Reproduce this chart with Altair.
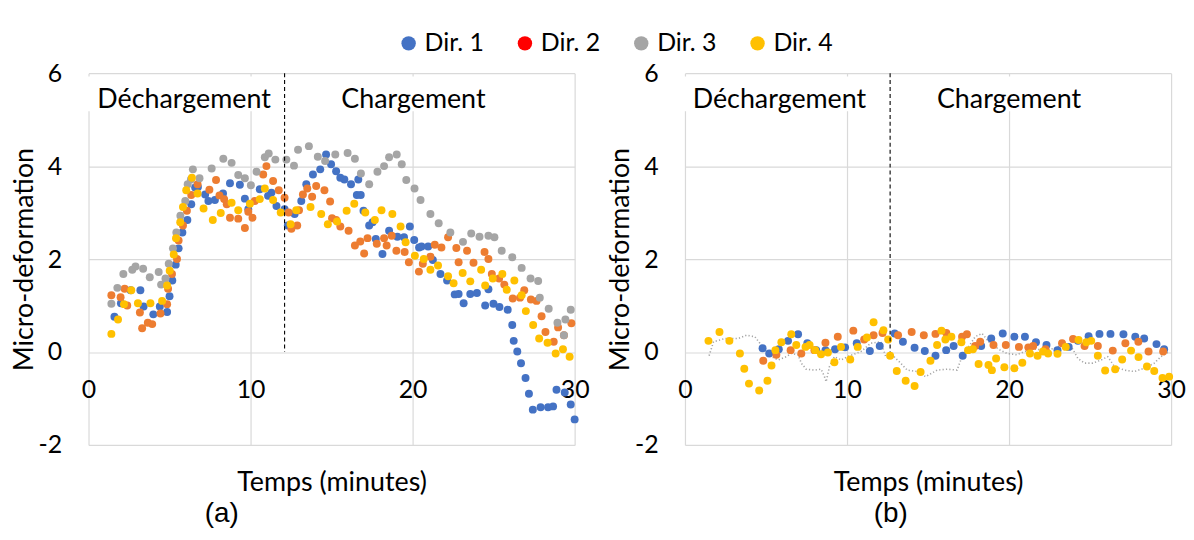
import altair as alt
import pandas as pd

series = ["Dir. 1", "Dir. 2", "Dir. 3", "Dir. 4"]
point_colors = ["#4472C4", "#ED7D31", "#A5A5A5", "#FFC000"]
legend_colors = ["#4472C4", "#FF0000", "#A5A5A5", "#FFC000"]

# ---------------- Panel (a) ----------------
a1_t = [1.6, 2.0, 2.6, 3.2, 3.4, 4.0, 4.4, 4.85, 5.0, 5.17, 5.38, 5.56, 5.79, 6.1, 6.34, 6.58, 6.75, 7.2, 7.4, 7.8,
        8.3, 8.73, 9.34, 9.65, 9.86, 10.57, 11.08, 11.29, 11.6, 12.1, 12.3, 12.72, 13.13, 13.44, 13.85, 14.3, 14.66,
        14.97, 15.28, 15.54, 15.79, 16.2, 16.56, 16.65, 16.8, 16.97, 17.32, 17.53, 17.73, 18.14, 18.55, 19.06, 19.47,
        19.83, 20.1, 20.4, 20.55, 20.96, 21.25, 21.72, 22.13, 22.6, 22.84, 23.15, 23.56, 23.97, 24.48, 24.68, 24.99,
        25.36, 25.87, 26.15, 26.24, 26.46, 26.69, 26.97, 27.18, 27.42, 27.9, 28.36, 28.67, 28.88, 29.39, 29.76, 30.0]
a1_v = [0.76, 1.05, 1.33, 1.33, 0.98, 0.81, 0.98, 0.86, 1.2, 1.54, 1.88, 2.23, 2.57, 2.84, 3.18, 3.54, 3.55, 3.39, 3.25,
        3.27, 3.41, 3.63, 3.6, 3.3, 3.07, 3.5, 3.36, 3.43, 3.14, 3.07, 2.72, 2.97, 3.25, 3.61, 3.82, 3.93, 4.25, 4.04,
        3.89, 3.75, 3.71, 3.61, 3.38, 3.71, 3.38, 3.04, 2.72, 2.79, 2.43, 2.11, 2.61, 2.48, 2.47, 2.7, 2.41, 2.25, 2.27,
        2.27, 1.98, 1.68, 1.54, 1.24, 1.25, 1.05, 1.25, 1.27, 1.0, 1.35, 1.04, 0.97, 0.91, 0.58, 0.24, 0.01, -0.24,
        -0.56, -0.9, -1.24, -1.19, -1.19, -1.17, -0.81, -0.87, -1.13, -1.45]

a2_t = [1.41, 1.98, 2.23, 2.39, 3.17, 3.31, 3.66, 3.93, 4.44, 4.85, 4.91, 5.15, 5.46, 5.56, 5.83, 6.07, 6.34, 6.73, 7.46,
        7.87, 8.08, 8.37, 8.53, 8.73, 9.24, 9.65, 9.86, 10.12, 10.26, 10.78, 10.98, 11.39, 11.74, 12.1, 12.35, 12.52,
        12.88, 12.99, 13.23, 13.5, 13.8, 14.05, 14.56, 14.91, 15.03, 15.28, 15.54, 16.05, 16.44, 16.77, 17.01, 17.22,
        17.79, 18.24, 18.4, 18.71, 19.0, 19.51, 19.77, 20.39, 20.63, 21.1, 21.37, 21.78, 22.19, 22.7, 22.84, 23.36,
        23.76, 24.44, 24.68, 24.89, 25.34, 25.66, 26.18, 26.63, 26.89, 27.3, 27.65, 27.96, 28.2, 28.71, 28.98, 29.34, 29.8]
a2_v = [1.22, 1.18, 1.36, 1.0, 0.85, 0.51, 0.63, 0.6, 0.83, 1.03, 1.36, 1.68, 2.0, 2.4, 2.72, 3.04, 3.38, 3.61, 3.49,
        3.7, 3.37, 3.29, 3.18, 2.89, 2.87, 2.67, 3.02, 2.89, 3.25, 3.82, 4.0, 3.68, 3.48, 3.32, 3.0, 2.65, 2.72, 3.05,
        3.39, 3.52, 3.34, 3.57, 3.48, 3.24, 2.88, 2.84, 2.7, 2.61, 2.29, 2.38, 2.12, 2.45, 2.33, 2.45, 2.29, 2.5, 2.18,
        2.15, 1.93, 1.73, 1.9, 2.05, 2.31, 2.25, 2.47, 2.24, 1.93, 2.18, 1.92, 2.15, 2.0, 1.68, 1.58, 1.45, 1.15, 1.17,
        1.33, 1.13, 1.1, 0.77, 0.43, 0.22, 0.53, 0.36, 0.62]

a3_t = [1.41, 1.78, 2.15, 2.7, 2.9, 3.37, 3.78, 4.33, 4.48, 4.75, 4.95, 5.21, 5.42, 5.67, 5.97, 6.12, 6.32, 6.44, 6.85,
        7.6, 8.32, 8.83, 9.24, 9.65, 10.02, 10.37, 10.88, 11.12, 11.53, 12.21, 12.68, 12.93, 13.6, 14.15, 14.6, 15.23,
        15.99, 16.44, 16.81, 17.32, 17.83, 18.24, 18.55, 19.02, 19.33, 19.61, 20.12, 20.49, 21.1, 21.61, 22.33, 23.11,
        23.62, 24.13, 24.68, 25.05, 25.5, 26.15, 26.73, 27.28, 27.75, 27.85, 28.4, 28.94, 29.34, 29.43, 29.76]
a3_v = [1.04, 1.38, 1.68, 1.77, 1.84, 1.79, 1.61, 1.72, 1.45, 1.58, 1.9, 2.23, 2.57, 2.93, 3.25, 3.61, 3.71, 3.93, 3.74,
        3.95, 4.16, 4.07, 3.81, 3.74, 3.59, 3.88, 4.19, 4.27, 4.14, 4.14, 4.01, 4.35, 4.43, 4.2, 4.11, 4.25, 4.28, 4.16,
        3.84, 3.61, 3.88, 4.0, 4.19, 4.25, 4.04, 3.7, 3.52, 3.27, 2.97, 2.77, 2.57, 2.37, 2.55, 2.48, 2.5, 2.47, 2.18,
        2.04, 1.81, 1.58, 1.53, 1.17, 0.93, 0.63, 0.36, 0.7, 0.91]

a4_t = [1.41, 1.82, 2.19, 2.64, 3.05, 3.82, 4.54, 4.85, 5.01, 5.26, 5.4, 5.66, 5.83, 6.03, 6.38, 6.73, 7.1, 7.67, 8.16,
        8.83, 9.24, 9.96, 10.57, 10.88, 11.39, 11.86, 12.47, 12.82, 13.7, 14.36, 14.77, 15.34, 15.93, 16.4, 17.08, 17.67,
        18.08, 18.75, 19.26, 19.57, 20.14, 20.69, 21.1, 21.57, 22.19, 22.53, 23.09, 23.56, 24.23, 24.48, 24.95, 25.54,
        25.81, 26.28, 26.73, 26.99, 27.44, 27.81, 28.33, 28.83, 29.28, 29.69]
a4_v = [0.39, 0.7, 1.03, 1.33, 1.05, 1.05, 1.1, 1.43, 1.75, 2.1, 2.45, 2.79, 3.12, 3.48, 3.75, 3.41, 3.09, 2.84, 2.99,
        3.21, 3.05, 3.19, 3.29, 3.52, 3.27, 3.0, 2.75, 3.05, 3.12, 2.97, 2.75, 2.81, 3.04, 3.19, 3.0, 2.84, 3.05, 2.97,
        2.7, 2.36, 2.07, 2.0, 1.77, 1.86, 1.63, 1.48, 1.7, 1.52, 1.77, 1.43, 1.58, 1.68, 1.34, 1.54, 1.22, 0.88, 0.58,
        0.29, 0.2, -0.03, 0.06, -0.1]

# ---------------- Panel (b) ----------------
b1_t = [4.79, 5.2, 5.79, 6.36, 6.98, 7.55, 8.1, 8.67, 9.26, 9.88, 10.6, 11.41, 12.02, 12.94, 13.45, 14.17, 14.8, 15.46,
        16.12, 16.58, 17.14, 18.28, 18.9, 19.61, 20.33, 20.98, 21.66, 22.31, 22.99, 23.68, 24.25, 24.91, 25.58, 26.26,
        27.06, 27.79, 28.34, 29.1, 29.57]
b1_v = [0.08, -0.03, 0.06, 0.24, 0.38, 0.19, 0.04, 0.04, 0.06, 0.1, 0.19, 0.02, 0.13, 0.4, 0.22, 0.09, 0.02, -0.08,
        0.04, 0.13, -0.08, 0.13, 0.29, 0.4, 0.33, 0.33, 0.21, 0.15, 0.04, 0.11, 0.24, 0.34, 0.39, 0.39, 0.38, 0.33,
        0.29, 0.17, 0.06]

b2_t = [4.83, 5.64, 6.52, 7.18, 7.99, 8.67, 9.43, 10.39, 11.06, 11.64, 12.19, 13.15, 13.99, 14.74, 15.46, 16.13, 17.1,
        17.4, 17.91, 18.22, 19.04, 19.8, 20.61, 21.19, 21.49, 22.25, 23.27, 23.95, 24.66, 25.48, 26.4, 27.18, 27.98,
        28.61, 29.51]
b2_v = [-0.19, -0.06, 0.04, -0.03, 0.04, 0.2, 0.33, 0.46, 0.27, 0.36, 0.41, 0.36, 0.43, 0.36, 0.39, 0.41, 0.33, 0.38,
        0.13, 0.22, 0.15, 0.15, 0.11, 0.1, 0.13, 0.06, 0.19, 0.28, 0.13, 0.13, 0.03, 0.19, 0.22, 0.01, 0.01]

b3_t = [1.49, 1.76, 2.47, 3.29, 3.8, 4.31, 4.62, 4.93, 5.34, 5.75, 6.26, 6.56, 6.98, 7.18, 7.48, 7.99, 8.4, 8.61, 8.71,
        8.92, 9.22, 9.63, 10.04, 10.86, 11.47, 12.09, 12.39, 12.9, 13.31, 13.72, 14.33, 14.85, 15.56, 16.18, 16.79,
        17.1, 17.5, 17.91, 18.33, 18.83, 19.45, 19.86, 20.47, 20.98, 21.6, 22.21, 22.82, 23.44, 23.85, 24.25, 24.66,
        25.17, 25.69, 26.09, 26.5, 27.12, 27.73, 28.34, 28.96, 29.37, 29.88]
b3_v = [-0.08, 0.22, 0.29, 0.29, 0.36, 0.33, 0.19, 0.04, -0.1, -0.17, -0.1, -0.03, -0.06, -0.24, -0.37, -0.39, -0.37,
        -0.53, -0.64, -0.31, -0.1, -0.17, -0.1, 0.01, 0.19, 0.22, -0.1, -0.1, -0.24, -0.39, -0.42, -0.53, -0.39, -0.37,
        -0.39, -0.1, 0.11, 0.33, 0.4, 0.19, 0.04, -0.03, -0.06, 0.01, 0.06, 0.04, 0.08, 0.19, 0.11, -0.14, -0.24,
        -0.24, -0.17, -0.1, -0.31, -0.39, -0.42, -0.35, -0.24, -0.1, 0.01]

b4_t = [1.45, 2.13, 2.74, 3.39, 3.66, 3.95, 4.58, 5.09, 5.34, 5.58, 5.95, 6.56, 6.87, 7.44, 7.69, 8.04, 8.4, 8.82, 9.22,
        9.63, 10.2, 10.66, 11.23, 11.64, 12.25, 12.54, 12.66, 13.07, 13.62, 14.17, 14.54, 15.15, 15.56, 15.83, 16.07,
        16.44, 17.06, 17.47, 17.77, 18.12, 18.73, 18.94, 19.2, 19.71, 20.33, 20.82, 21.29, 21.76, 22.1, 22.41, 22.99,
        23.5, 24.29, 24.77, 25.07, 25.48, 25.93, 26.55, 26.98, 27.53, 27.99, 28.51, 28.96, 29.47, 29.88]
b4_v = [0.24, 0.43, 0.24, -0.03, -0.36, -0.68, -0.83, -0.62, -0.29, 0.04, 0.21, 0.38, 0.15, 0.11, 0.15, 0.04, -0.05,
        -0.01, -0.22, 0.11, -0.16, 0.11, 0.31, 0.64, 0.47, 0.27, -0.08, -0.41, -0.62, -0.73, -0.43, -0.19, 0.15, 0.46,
        0.27, 0.33, 0.21, 0.04, 0.06, -0.26, -0.28, -0.39, -0.14, -0.33, -0.35, -0.23, -0.03, -0.08, 0.01, -0.03,
        -0.04, 0.11, 0.26, 0.21, 0.24, -0.08, -0.4, -0.37, -0.16, 0.03, -0.11, -0.31, -0.41, -0.56, -0.53]

# annotations (text boxes with white background, as in the source figure)
phase_labels = ["Déchargement", "Chargement"]
a_phase_t = [5.9, 20.05]
b_phase_t = [5.83, 20.0]
phase_y = [5.43, 5.43]
a_box_t0 = [-0.1, 14.8]
a_box_t1 = [11.6, 25.3]
b_box_t0 = [-0.1, 14.8]
b_box_t1 = [11.6, 25.2]
box_v0 = [5.18, 5.18]
box_v1 = [5.93, 5.93]
a_switch_t = [12.1]
b_switch_t = [12.66]
switch_top = [6]
switch_bottom = [0]
x_ticks = [0, 10, 20, 30]
y_ticks = [-2, 0, 2, 4, 6]
captions = ["(a)", "(b)"]


def long_frame(pairs):
    frames = []
    for name, ts, vs in pairs:
        frames.append(pd.DataFrame({"t": ts, "v": vs, "dir": name}))
    return pd.concat(frames, ignore_index=True)


a_df = long_frame([(series[0], a1_t, a1_v), (series[1], a2_t, a2_v),
                   (series[2], a3_t, a3_v), (series[3], a4_t, a4_v)])
b_pts = long_frame([(series[0], b1_t, b1_v), (series[1], b2_t, b2_v), (series[3], b4_t, b4_v)])
b_line = long_frame([(series[2], b3_t, b3_v)])

FONT = "Lato"
W, H = 489, 374
hyphen_labels = "datum.value < 0 ? '-' + abs(datum.value) : '' + datum.value"

x_enc = alt.X("t:Q", scale=alt.Scale(domain=[0, 30], nice=False, zero=False),
              axis=alt.Axis(values=x_ticks, title="Temps (minutes)", offset=-93.5, labelPadding=26,
                            titlePadding=67, labelFlush=False))
y_enc = alt.Y("v:Q", scale=alt.Scale(domain=[-2, 6], nice=False, zero=False),
              axis=alt.Axis(values=y_ticks, title="Micro-deformation", labelPadding=27, titlePadding=0,
                            labelExpr=hyphen_labels))
color_enc = alt.Color("dir:N", scale=alt.Scale(domain=series, range=point_colors), legend=None)


def panel(pts_df, line_df, phase_t, box_t0, box_t1, switch_t, caption, cap_dx):
    layers = []
    box_df = pd.DataFrame({"t": box_t0, "t2": box_t1, "v": box_v0, "v2": box_v1})
    layers.append(alt.Chart(box_df).mark_rect(color="white", opacity=1).encode(
        x=x_enc, x2="t2:Q", y=y_enc, y2="v2:Q"))
    if line_df is not None:
        layers.append(alt.Chart(line_df).mark_line(color=point_colors[2], strokeWidth=1.6,
                                                    strokeDash=[1.2, 2.2]).encode(x=x_enc, y=y_enc))
    layers.append(alt.Chart(pts_df).mark_circle(size=64, opacity=1).encode(x=x_enc, y=y_enc, color=color_enc))
    rule_df = pd.DataFrame({"t": switch_t, "v": switch_top, "v2": switch_bottom})
    layers.append(alt.Chart(rule_df).mark_rule(color="black", strokeWidth=1.1, strokeDash=[4, 3]).encode(
        x=x_enc, y=y_enc, y2="v2:Q"))
    txt_df = pd.DataFrame({"t": phase_t, "v": phase_y, "label": phase_labels})
    layers.append(alt.Chart(txt_df).mark_text(font=FONT, fontSize=27, color="black", baseline="middle").encode(
        x=x_enc, y=y_enc, text="label:N"))
    return alt.layer(*layers).properties(
        width=W, height=H,
        title=alt.TitleParams(caption, orient="bottom", anchor="middle", frame="group", dx=cap_dx, offset=5,
                              font="Liberation Sans", fontSize=28, fontWeight="normal", color="black"))


pa = panel(a_df, None, a_phase_t, a_box_t0, a_box_t1, a_switch_t, captions[0], -110.5)
pb = panel(b_pts, b_line, b_phase_t, b_box_t0, b_box_t1, b_switch_t, captions[1], -37.5)

leg_df = pd.DataFrame({"dir": series})
leg_x = alt.X("dir:N", sort=series, scale=alt.Scale(type="point", range=[322, 673], padding=0), axis=None)
legend = alt.layer(
    alt.Chart(leg_df).mark_circle(size=210, opacity=1).encode(
        x=leg_x, color=alt.Color("dir:N", scale=alt.Scale(domain=series, range=legend_colors), legend=None)),
    alt.Chart(leg_df).mark_text(align="left", dx=16, font=FONT, fontSize=25, color="black", baseline="middle").encode(
        x=leg_x, text="dir:N"),
).properties(width=1000, height=36)

chart = alt.vconcat(legend, alt.hconcat(pa, pb, spacing=17), spacing=0).resolve_scale(
    color="independent"
).properties(
    padding={"left": 2, "top": 16, "right": 0, "bottom": 0}
).configure_view(stroke=None).configure_axis(
    labelFont=FONT, titleFont=FONT, labelFontSize=25, titleFontSize=27, titleFontWeight="normal",
    labelColor="black", titleColor="black", ticks=False, domain=False, gridColor="#D9D9D9", gridWidth=1.2
)

chart.save("out.html", embed_options={"renderer": "svg", "actions": False})
